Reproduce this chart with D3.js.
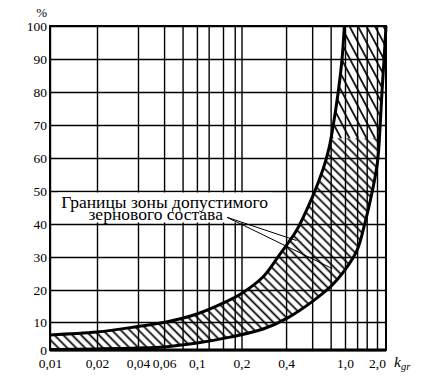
<!DOCTYPE html>
<html><head><meta charset="utf-8">
<script src="https://cdn.jsdelivr.net/npm/d3@7"></script>
<style>
html,body{margin:0;padding:0;background:#fff;}
svg{display:block;}
text{font-family:"Liberation Serif","Times New Roman","DejaVu Serif",serif;fill:#000;}
</style></head>
<body>
<svg id="chart" width="423" height="387"></svg>
<script>
// ---- data ----
const xGridValues = [0.01,0.02,0.04,0.06,0.08,0.1,0.12,0.15,0.18,0.2,0.4,0.6,0.8,1.0,1.3,1.6,2.0];
const xTickValues = [0.01,0.02,0.04,0.06,0.1,0.2,0.4,1.0,2.0];
const xTickLabels = ["0,01","0,02","0,04","0,06","0,1","0,2","0,4","1,0","2,0"];
const yTickValues = [0,10,20,30,40,50,60,70,80,90,100];
// upper (left) boundary of the zone: k_gr and %
const upperX = [0.01,0.02,0.04,0.062,0.1,0.155,0.2,0.28,0.36,0.47,0.6,0.71,0.78,0.83,0.9,0.955,0.99];
const upperY = [5.4,6.4,8.4,10.0,12.5,16.2,18.9,24,30.6,38,48,56.5,63,69.5,80,90,100];
// lower (right) boundary of the zone
const lowerX = [0.01,0.02,0.04,0.06,0.1,0.167,0.28,0.41,0.61,0.82,1.0,1.3,1.54,1.76,2.02,2.15,2.26,2.38,2.5];
const lowerY = [0.2,0.4,0.7,1.1,2.5,4.6,7.5,11.3,16.6,21.5,26.1,32.1,40.3,48.2,58.5,68.5,79.7,89.7,100];
const noteLines = ["Границы зоны допустимого","зернового состава"];
// leader-line targets: k_gr and %
const noteTargets = [[0.47,35],[0.82,26.5]];

// ---- scales ----
const svg = d3.select("#chart");
const x = d3.scaleLog().domain([0.01,0.02,0.04,1,2,2.5]).range([50,97,138,345,377,386]);
const y = d3.scaleLinear().domain([0,10,20,100]).range([350,322,290,26]);
const [x0,x1] = [x(0.01), x(2.5)];
const [y0,y1] = [y(0), y(100)];
const ySplit = y(66);

// hatch patterns
const defs = svg.append("defs");
function hatch(id, w, angle){
  const p = defs.append("pattern").attr("id",id).attr("patternUnits","userSpaceOnUse")
    .attr("width",w).attr("height",w).attr("patternTransform",`rotate(${angle})`);
  p.append("line").attr("x1",w/2).attr("y1",0).attr("x2",w/2).attr("y2",w)
    .attr("stroke","#000").attr("stroke-width",1.7);
}
hatch("hatchA",6.3,-45);
hatch("hatchB",7.5,-28);
defs.append("clipPath").attr("id","clipLow").append("rect")
  .attr("x",x0).attr("y",ySplit).attr("width",x1-x0).attr("height",y0-ySplit);
defs.append("clipPath").attr("id","clipHigh").append("rect")
  .attr("x",x0).attr("y",y1).attr("width",x1-x0).attr("height",ySplit-y1);

// grid
const gx = svg.append("g").attr("transform",`translate(0,${y0})`)
  .call(d3.axisBottom(x).tickValues(xGridValues).tickSize(-(y0-y1)).tickFormat(""));
const gy = svg.append("g").attr("transform",`translate(${x0},0)`)
  .call(d3.axisLeft(y).tickValues(yTickValues).tickSize(-(x1-x0)).tickFormat(""));
[gx,gy].forEach(g=>{g.select(".domain").remove();g.selectAll("line").attr("stroke","#000").attr("stroke-width",1.4);});

// zone
const upper = upperX.map((v,i)=>[v,upperY[i]]);
const lower = lowerX.map((v,i)=>[v,lowerY[i]]);
const line = d3.line().x(d=>x(d[0])).y(d=>y(d[1])).curve(d3.curveCatmullRom.alpha(0.5));
const zoneD = line(upper) + "L" + line(lower.slice().reverse()).slice(1) + "Z";
svg.append("path").attr("d",zoneD).attr("fill","url(#hatchA)").attr("clip-path","url(#clipLow)");
svg.append("path").attr("d",zoneD).attr("fill","url(#hatchB)").attr("clip-path","url(#clipHigh)");

svg.append("path").attr("d",line(upper)).attr("fill","none").attr("stroke","#000").attr("stroke-width",3);
svg.append("path").attr("d",line(lower)).attr("fill","none").attr("stroke","#000").attr("stroke-width",3);

// frame
svg.append("rect").attr("x",x0).attr("y",y1).attr("width",x1-x0).attr("height",y0-y1)
  .attr("fill","none").attr("stroke","#000").attr("stroke-width",2);
svg.append("line").attr("x1",x0).attr("x2",x1).attr("y1",y0).attr("y2",y0).attr("stroke","#000").attr("stroke-width",3);

// axis labels
const ax = svg.append("g").attr("transform",`translate(0,${y0})`)
  .call(d3.axisBottom(x).tickValues(xTickValues).tickSize(0).tickPadding(8).tickFormat((d,i)=>xTickLabels[i]));
ax.select(".domain").remove();
const ay = svg.append("g").attr("transform",`translate(${x0},0)`)
  .call(d3.axisLeft(y).tickValues(yTickValues).tickSize(0).tickPadding(3));
ay.select(".domain").remove();
[ax,ay].forEach(g=>{g.attr("font-family",null).attr("font-size",null);
  g.selectAll("text").attr("font-size",13.5);});

svg.append("text").attr("x",x0-3).attr("y",y1-9).attr("text-anchor","end").attr("font-size",13).text("%");
const kl = svg.append("text").attr("x",x1+8).attr("y",y0+17).attr("font-size",15.5);
kl.append("tspan").attr("font-style","italic").text("k");
kl.append("tspan").attr("font-style","italic").attr("font-size",10.5).attr("dy",3).text("gr");

// note
const note = svg.append("g");
const t1 = note.append("text").attr("x",x(0.0118)).attr("y",y(44.7)).attr("font-size",17.5).text(noteLines[0]);
const b1 = t1.node().getBBox();
const t2 = note.append("text").attr("x",b1.x+b1.width/2-9).attr("y",y(41.1)).attr("text-anchor","middle").attr("font-size",17.5).text(noteLines[1]);
const b2 = t2.node().getBBox();
const bx0 = Math.min(b1.x,b2.x)-3, bx1 = Math.max(b1.x+b1.width,b2.x+b2.width)+4;
note.insert("rect","text").attr("x",bx0).attr("y",y(50)+1.5).attr("width",bx1-bx0).attr("height",y(40)-y(50)-3).attr("fill","#fff");
const sx = b2.x+b2.width+4, sy = b2.y+b2.height*0.65;
noteTargets.forEach(t=>{
  note.append("line").attr("x1",sx).attr("y1",sy).attr("x2",x(t[0])).attr("y2",y(t[1]))
    .attr("stroke","#000").attr("stroke-width",1);
});
</script>
</body></html>
